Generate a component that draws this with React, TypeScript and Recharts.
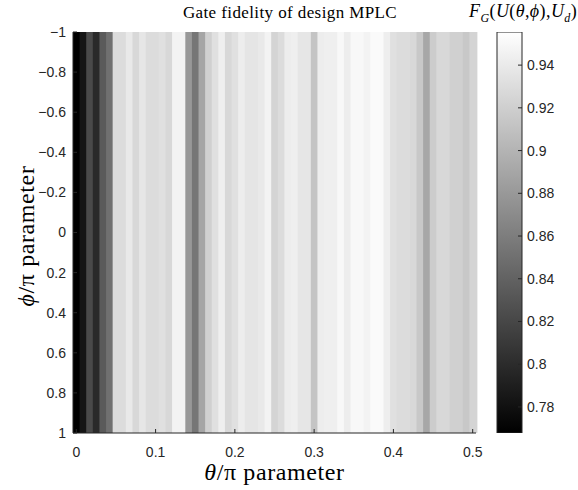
import { BarChart, Bar, XAxis, YAxis } from 'recharts';

// theta / pi grid (61 columns, step 1/120)
const thetaValues = [
  0, 0.0083, 0.0167, 0.025, 0.0333, 0.0417, 0.05, 0.0583, 0.0667, 0.075,
  0.0833, 0.0917, 0.1, 0.1083, 0.1167, 0.125, 0.1333, 0.1417, 0.15, 0.1583,
  0.1667, 0.175, 0.1833, 0.1917, 0.2, 0.2083, 0.2167, 0.225, 0.2333, 0.2417,
  0.25, 0.2583, 0.2667, 0.275, 0.2833, 0.2917, 0.3, 0.3083, 0.3167, 0.325,
  0.3333, 0.3417, 0.35, 0.3583, 0.3667, 0.375, 0.3833, 0.3917, 0.4, 0.4083,
  0.4167, 0.425, 0.4333, 0.4417, 0.45, 0.4583, 0.4667, 0.475, 0.4833, 0.4917, 0.5,
];

// gate fidelity per theta column (constant along phi)
const fidelity = [
  0.768, 0.783, 0.822, 0.799, 0.834, 0.85, 0.93, 0.93, 0.939, 0.927,
  0.937, 0.93, 0.93, 0.933, 0.927, 0.947, 0.947, 0.88, 0.855, 0.889,
  0.921, 0.933, 0.944, 0.927, 0.933, 0.942, 0.936, 0.936, 0.939, 0.947,
  0.924, 0.93, 0.942, 0.944, 0.937, 0.937, 0.912, 0.942, 0.944, 0.944,
  0.95, 0.942, 0.95, 0.95, 0.947, 0.952, 0.952, 0.943, 0.933, 0.93,
  0.93, 0.927, 0.915, 0.891, 0.918, 0.927, 0.927, 0.921, 0.921, 0.915, 0.924,
];

const phiRange = [-1, 1];
const thetaTicks = [0, 0.1, 0.2, 0.3, 0.4, 0.5];
const phiTicks = [-1, -0.8, -0.6, -0.4, -0.2, 0, 0.2, 0.4, 0.6, 0.8, 1];
const cbTicks = [0.78, 0.8, 0.82, 0.84, 0.86, 0.88, 0.9, 0.92, 0.94];
const CB_MIN = 0.7678;
const CB_MAX = 0.9555;
const HALF_STEP = 1 / 240;
const THETA_DOMAIN = [-HALF_STEP, 0.5 + HALF_STEP];

const rows = thetaValues.map((theta, i) => ({
  idx: i,
  theta,
  fid: fidelity[i],
  phi: phiRange,
}));
const cbRows = [{ name: 'cb', span: [CB_MIN, CB_MAX] }];

const grayOf = (v: number) => {
  const t = Math.max(0, Math.min(1, (v - CB_MIN) / (CB_MAX - CB_MIN)));
  const g = Math.round(t * 255);
  return `rgb(${g},${g},${g})`;
};

const axisColor = '#262626';
const tickStyle = { fill: axisColor, fontSize: 14, fontFamily: '"Liberation Sans", Arial, sans-serif' };
const serif = '"Liberation Serif", "Times New Roman", serif';
const fmt = (v: number) => String(v).replace('-', '\u2212');
const blank = () => '';

const W = 578;
const H = 490;
const plotMargin = { top: 32, right: 102, bottom: 57, left: 73 };
const cbMargin = { top: 32, right: 56, bottom: 57, left: 497 };

const CellShape = (p: any) => {
  const y = Math.min(p.y, p.y + p.height);
  const h = Math.abs(p.height);
  return <rect x={p.x} y={y} width={p.width + 1} height={h} fill={grayOf(p.payload.fid)} />;
};

const layer = { position: 'absolute' as const, left: 0, top: 0 };

export default function App() {
  return (
    <div style={{ position: 'absolute', left: 0, top: 0, width: W, height: H, background: '#fff' }}>
      {/* heat map cells */}
      <div style={layer}>
        <BarChart width={W} height={H} data={rows} margin={plotMargin} barCategoryGap={0} barGap={0}>
          <XAxis xAxisId="cat" dataKey="idx" type="category" hide height={0} />
          <YAxis yAxisId="phi" type="number" domain={phiRange} reversed allowDataOverflow hide width={0} />
          <Bar xAxisId="cat" yAxisId="phi" dataKey="phi" shape={CellShape} isAnimationActive={false} />
        </BarChart>
      </div>

      {/* axes box drawn over the cells */}
      <div style={layer}>
        <BarChart
          width={W}
          height={H}
          data={rows}
          margin={{ top: 32, right: 102, bottom: 27, left: 13 }}
        >
          <YAxis
            yAxisId="phi"
            type="number"
            domain={phiRange}
            reversed
            allowDataOverflow
            ticks={phiTicks}
            width={60}
            tickSize={-4}
            tickMargin={11}
            tickFormatter={fmt}
            stroke={axisColor}
            tick={tickStyle}
          />
          <YAxis
            yAxisId="phiR"
            orientation="right"
            type="number"
            domain={phiRange}
            reversed
            allowDataOverflow
            ticks={phiTicks}
            width={0}
            tickSize={-4}
            tickFormatter={blank}
            stroke={axisColor}
          />
          <XAxis
            xAxisId="num"
            dataKey="theta"
            type="number"
            domain={THETA_DOMAIN}
            allowDataOverflow
            ticks={thetaTicks}
            height={30}
            tickSize={-4}
            tickMargin={18}
            stroke={axisColor}
            tick={tickStyle}
          />
          <XAxis
            xAxisId="top"
            dataKey="theta"
            orientation="top"
            type="number"
            domain={THETA_DOMAIN}
            allowDataOverflow
            ticks={thetaTicks}
            height={0}
            tickSize={-4}
            tickFormatter={blank}
            stroke={axisColor}
          />
        </BarChart>
      </div>

      {/* colour bar */}
      <div style={layer}>
        <BarChart width={W} height={H} data={cbRows} margin={cbMargin} barCategoryGap={0}>
          <defs>
            <linearGradient id="cbGrad" x1="0" y1="0" x2="0" y2="1">
              <stop offset="0" stopColor="#ffffff" />
              <stop offset="1" stopColor="#000000" />
            </linearGradient>
          </defs>
          <XAxis dataKey="name" hide height={0} />
          <YAxis type="number" domain={[CB_MIN, CB_MAX]} allowDataOverflow hide width={0} />
          <Bar dataKey="span" fill="url(#cbGrad)" stroke={axisColor} isAnimationActive={false} />
        </BarChart>
      </div>
      <div style={layer}>
        <BarChart width={W} height={H} data={cbRows} margin={{ top: 32, right: 0, bottom: 57, left: 497 }}>
          <XAxis dataKey="name" hide height={0} />
          <YAxis
            orientation="right"
            type="number"
            domain={[CB_MIN, CB_MAX]}
            allowDataOverflow
            ticks={cbTicks}
            width={56}
            tickSize={-4}
            tickMargin={9}
            axisLine={false}
            stroke={axisColor}
            tick={tickStyle}
          />
        </BarChart>
      </div>

      <div
        style={{
          position: 'absolute', left: 0, top: 3, width: 580, textAlign: 'center',
          fontFamily: serif, fontSize: 17, lineHeight: '19px', color: '#000', letterSpacing: 0.4,
        }}
      >
        Gate fidelity of design MPLC
      </div>
      <div
        style={{
          position: 'absolute', left: 469, top: 1, whiteSpace: 'nowrap',
          fontFamily: serif, fontSize: 18, lineHeight: '20px', color: '#000', letterSpacing: 0.4,
        }}
      >
        <i>F</i><sub style={{ fontSize: 12 }}><i>G</i></sub>(<i>U</i>(<i>θ</i>,<i>ϕ</i>),<i>U</i><sub style={{ fontSize: 12 }}><i>d</i></sub>)
      </div>
      <div
        style={{
          position: 'absolute', left: 0, top: 459, width: 549, textAlign: 'center',
          fontFamily: serif, fontSize: 24, lineHeight: '26px', color: '#000', letterSpacing: 0.6,
        }}
      >
        <i>θ</i>/π parameter
      </div>
      <div style={{ position: 'absolute', left: 26, top: 236, width: 0, height: 0 }}>
        <div
          style={{
            position: 'absolute', left: 0, top: 0, transform: 'translate(-50%, -50%) rotate(-90deg)',
            whiteSpace: 'nowrap', fontFamily: serif, fontSize: 24, lineHeight: '26px', color: '#000',
            letterSpacing: 0.6,
          }}
        >
          <i>ϕ</i>/π parameter
        </div>
      </div>
    </div>
  );
}
